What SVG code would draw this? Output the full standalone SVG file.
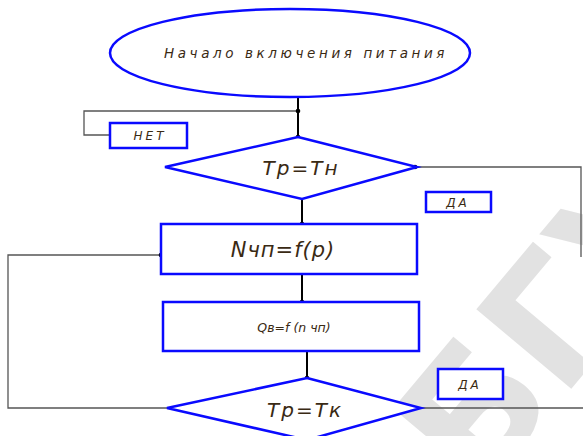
<svg xmlns="http://www.w3.org/2000/svg" width="583" height="436" viewBox="0 0 583 436">
<style>
.shape{fill:#fff;stroke:#0a0aff;stroke-width:2.5}
.lbl{fill:#3a2a14;font-family:"DejaVu Sans",sans-serif;font-style:italic;text-anchor:middle}
.vline{stroke:#000;stroke-width:2;fill:none}
.hline{stroke:#555;stroke-width:1.3;fill:none}
.wm{fill:#e2e2e2;font-family:"DejaVu Sans",sans-serif;font-weight:bold}
</style>
<defs>
<marker id="dot" markerWidth="6" markerHeight="6" refX="3" refY="3" markerUnits="userSpaceOnUse"><circle cx="3" cy="3" r="2.3" fill="#000"/></marker>
</defs>
<rect width="583" height="436" fill="#fff"/>
<text class="wm" font-size="170" transform="translate(478,500) rotate(-50)">БГУ</text>
<g id="connectors">
<line class="vline" x1="298" y1="97" x2="298" y2="137" marker-end="url(#dot)"/>
<polyline class="hline" points="298,111 84,111 84,135 110,135"/>
<circle cx="298" cy="111" r="2.3"/>
<line class="vline" x1="302" y1="199" x2="302" y2="224" marker-end="url(#dot)"/>
<polyline class="hline" points="415,167 581,167 581,257"/>
<circle cx="415" cy="167" r="2.3"/>
<line class="vline" x1="302" y1="274" x2="302" y2="302" marker-end="url(#dot)"/>
<polyline class="hline" points="161,255 8,255 8,408 167,408"/>
<circle cx="161" cy="255" r="2.3"/>
<line class="vline" x1="307" y1="351" x2="307" y2="378" marker-end="url(#dot)"/>
<line class="hline" x1="421" y1="408" x2="583" y2="408"/>
</g>
<g id="start">
<ellipse class="shape" cx="290" cy="53" rx="180" ry="44"/>
<text class="lbl" x="306" y="58" font-size="13.5" letter-spacing="3.6">Начало включения питания</text>
</g>
<g id="net">
<rect class="shape" x="110" y="123" width="77" height="25"/>
<text class="lbl" x="150" y="140" font-size="12" letter-spacing="3">НЕТ</text>
</g>
<g id="cond1">
<polygon class="shape" points="298,137 417,167 302,199 165,167"/>
<text class="lbl" x="301" y="175" font-size="20" letter-spacing="2">Тр=Тн</text>
</g>
<g id="da1">
<rect class="shape" x="426" y="192" width="65" height="20"/>
<text class="lbl" x="458" y="207" font-size="12" letter-spacing="3">ДА</text>
</g>
<g id="calc1">
<rect class="shape" x="161" y="224" width="256" height="50"/>
<text class="lbl" x="283" y="257" font-size="21" letter-spacing="1">Nчп=f(p)</text>
</g>
<g id="calc2">
<rect class="shape" x="163" y="302" width="256" height="49"/>
<text class="lbl" x="294" y="332" font-size="12.5">Qв=f (n чп)</text>
</g>
<g id="cond2">
<polygon class="shape" points="307,378 421,408 307,440 167,408"/>
<text class="lbl" x="305" y="417" font-size="20" letter-spacing="2">Тр=Тк</text>
</g>
<g id="da2">
<rect class="shape" x="438" y="369" width="65" height="30"/>
<text class="lbl" x="470" y="389" font-size="12" letter-spacing="3">ДА</text>
</g>
</svg>
